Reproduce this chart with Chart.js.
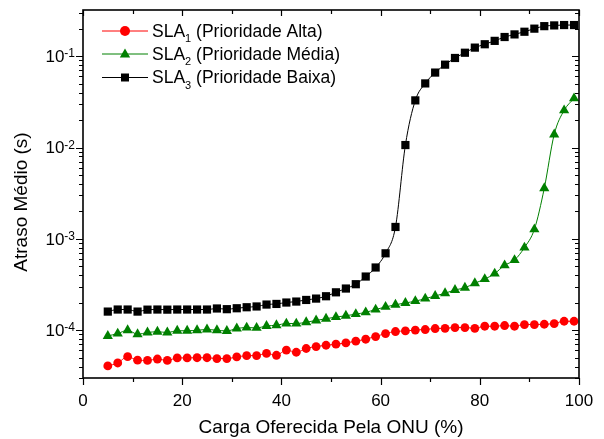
<!DOCTYPE html>
<html>
<head>
<meta charset="utf-8">
<script src="https://cdn.jsdelivr.net/npm/chart.js@4/dist/chart.umd.min.js"></script>
<style>
  html, body { margin: 0; padding: 0; background: #fff; }
  #wrap { width: 604px; height: 439px; }
</style>
</head>
<body>
<div id="wrap"><canvas id="chart" width="604" height="439"></canvas></div>
<script>
// Carga oferecida (%)
const carga = [5, 7, 9, 11, 13, 15, 17, 19, 21, 23, 25, 27, 29, 31, 33, 35, 37, 39, 41, 43,
  45, 47, 49, 51, 53, 55, 57, 59, 61, 63, 65, 67, 69, 71, 73, 75, 77, 79, 81, 83,
  85, 87, 89, 91, 93, 95, 97, 99];

// Atraso medio (s) por SLA
const sla1 = [4.07e-5, 4.38e-5, 5.13e-5, 4.70e-5, 4.67e-5, 4.84e-5, 4.67e-5, 4.98e-5, 4.98e-5, 5.00e-5,
  5.00e-5, 4.90e-5, 4.90e-5, 5.10e-5, 5.26e-5, 5.28e-5, 5.57e-5, 5.32e-5, 6.07e-5, 5.74e-5,
  6.31e-5, 6.63e-5, 6.85e-5, 7.03e-5, 7.26e-5, 7.58e-5, 7.97e-5, 8.53e-5, 9.20e-5, 9.68e-5,
  9.82e-5, 1.005e-4, 1.018e-4, 1.044e-4, 1.05e-4, 1.07e-4, 1.07e-4, 1.05e-4, 1.106e-4, 1.106e-4,
  1.126e-4, 1.106e-4, 1.154e-4, 1.154e-4, 1.163e-4, 1.184e-4, 1.254e-4, 1.254e-4];
const sla2 = [8.66e-5, 9.2e-5, 1.0e-4, 9.04e-5, 9.44e-5, 9.63e-5, 9.44e-5, 9.87e-5, 9.87e-5, 1.0e-4,
  1.018e-4, 1.0e-4, 9.82e-5, 1.044e-4, 1.07e-4, 1.06e-4, 1.114e-4, 1.134e-4, 1.184e-4, 1.184e-4,
  1.223e-4, 1.28e-4, 1.336e-4, 1.394e-4, 1.44e-4, 1.50e-4, 1.57e-4, 1.685e-4, 1.80e-4, 1.90e-4,
  1.99e-4, 2.08e-4, 2.22e-4, 2.37e-4, 2.54e-4, 2.76e-4, 2.92e-4, 3.27e-4, 3.63e-4, 4.17e-4,
  5.14e-4, 5.86e-4, 8.03e-4, 1.27e-3, 3.58e-3, 1.39e-2, 2.55e-2, 3.45e-2];
const sla3 = [1.60e-4, 1.685e-4, 1.685e-4, 1.60e-4, 1.68e-4, 1.685e-4, 1.68e-4, 1.685e-4, 1.685e-4, 1.685e-4,
  1.685e-4, 1.73e-4, 1.70e-4, 1.74e-4, 1.785e-4, 1.82e-4, 1.91e-4, 1.94e-4, 2.01e-4, 2.06e-4,
  2.145e-4, 2.22e-4, 2.355e-4, 2.6e-4, 2.86e-4, 3.19e-4, 3.87e-4, 4.86e-4, 6.95e-4, 1.35e-3,
  1.064e-2, 3.28e-2, 5.03e-2, 6.61e-2, 8.07e-2, 9.55e-2, 0.109, 0.124, 0.135, 0.147,
  0.162, 0.173, 0.185, 0.200, 0.213, 0.217, 0.219, 0.219];

const legendLabels = ['Prioridade Alta', 'Prioridade Média', 'Prioridade Baixa'];

// ticks
const xMajor = [0, 20, 40, 60, 80, 100];
const xMinor = [10, 30, 50, 70, 90];
const yMajor = [1e-4, 1e-3, 1e-2, 1e-1];
const yExp = ['-4', '-3', '-2', '-1'];

const FONT = 'Arial, "Liberation Sans", sans-serif';

function pts(ys) {
  return carga.map((x, i) => ({ x: x, y: ys[i] }));
}

function drawMarker(ctx, style, x, y, color) {
  ctx.save();
  ctx.fillStyle = color;
  ctx.beginPath();
  if (style === 'circle') {
    ctx.arc(x, y, 5, 0, Math.PI * 2);
  } else if (style === 'triangle') {
    ctx.moveTo(x, y - 5.5);
    ctx.lineTo(x + 5.2, y + 3.5);
    ctx.lineTo(x - 5.2, y + 3.5);
    ctx.closePath();
  } else {
    ctx.rect(x - 4, y - 4, 8, 8);
  }
  ctx.fill();
  ctx.restore();
}

// eixos espelhados, ticks menores, rotulos 10^n e legenda
const frame = {
  id: 'frame',
  afterDraw(chart) {
    const ctx = chart.ctx;
    const a = chart.chartArea;
    const xs = chart.scales.x, ys = chart.scales.y;
    ctx.save();
    ctx.strokeStyle = '#000';
    ctx.lineWidth = 1.6;
    ctx.strokeRect(a.left, a.top, a.right - a.left, a.bottom - a.top);

    ctx.lineWidth = 1.2;
    ctx.beginPath();
    xMajor.forEach(v => {
      const px = Math.round(xs.getPixelForValue(v)) + 0.5;
      ctx.moveTo(px, a.bottom); ctx.lineTo(px, a.bottom + 7);
      ctx.moveTo(px, a.top); ctx.lineTo(px, a.top + 6);
    });
    xMinor.forEach(v => {
      const px = Math.round(xs.getPixelForValue(v)) + 0.5;
      ctx.moveTo(px, a.bottom); ctx.lineTo(px, a.bottom + 4);
      ctx.moveTo(px, a.top); ctx.lineTo(px, a.top + 4);
    });
    for (let e = -5; e <= 0; e++) {
      for (let m = 1; m <= 9; m++) {
        const v = m * Math.pow(10, e);
        if (v < ys.min || v > ys.max) continue;
        const py = Math.round(ys.getPixelForValue(v)) + 0.5;
        const len = m === 1 ? 7 : 4;
        ctx.moveTo(a.left, py); ctx.lineTo(a.left - len, py);
        ctx.moveTo(a.right, py); ctx.lineTo(a.right - len, py);
      }
    }
    ctx.stroke();

    // rotulos do eixo y
    ctx.fillStyle = '#000';
    yMajor.forEach((v, i) => {
      const py = ys.getPixelForValue(v);
      ctx.font = '12px ' + FONT;
      ctx.textAlign = 'right';
      ctx.textBaseline = 'alphabetic';
      const ew = ctx.measureText(yExp[i]).width;
      ctx.fillText(yExp[i], 75, py + 1);
      ctx.font = '17px ' + FONT;
      ctx.textBaseline = 'middle';
      ctx.fillText('10', 75 - ew, py + 1);
    });

    // titulo do eixo y
    ctx.save();
    ctx.translate(22, 202);
    ctx.rotate(-Math.PI / 2);
    ctx.font = '19px ' + FONT;
    ctx.textAlign = 'center';
    ctx.textBaseline = 'middle';
    ctx.fillText('Atraso Médio (s)', 0, 0);
    ctx.restore();

    // legenda
    const rows = [31, 54, 77.5];
    chart.data.datasets.forEach((ds, i) => {
      const y = rows[i];
      ctx.strokeStyle = ds.borderColor;
      ctx.lineWidth = 1;
      ctx.beginPath();
      ctx.moveTo(102, y); ctx.lineTo(148, y);
      ctx.stroke();
      drawMarker(ctx, ds.pointStyle, 125, y, ds.pointBackgroundColor);
      ctx.fillStyle = '#000';
      ctx.textAlign = 'left';
      ctx.textBaseline = 'middle';
      ctx.font = '17.5px ' + FONT;
      ctx.fillText('SLA', 152, y + 1);
      let x = 152 + ctx.measureText('SLA').width;
      ctx.font = '11px ' + FONT;
      ctx.fillText(String(i + 1), x, y + 8);
      x += ctx.measureText(String(i + 1)).width;
      ctx.font = '17.5px ' + FONT;
      ctx.fillText(' (' + legendLabels[i] + ')', x, y + 1);
    });
    ctx.restore();
  }
};

const mk = (data, color, style, r) => ({
  data: pts(data),
  borderColor: color,
  backgroundColor: color,
  pointBackgroundColor: color,
  pointBorderColor: color,
  pointBorderWidth: 0,
  pointStyle: style,
  pointRadius: r,
  borderWidth: 1,
  cubicInterpolationMode: 'monotone',
  tension: 0.4
});

const config = {
  type: 'line',
  data: {
    datasets: [
      mk(sla1, '#FF0000', 'circle', 4.4),
      mk(sla2, '#008000', 'triangle', 5.9),
      mk(sla3, '#000000', 'rect', 5.8)
    ]
  },
  options: {
    responsive: false,
    devicePixelRatio: 1,
    animation: false,
    layout: { padding: { top: 10, right: 25, left: 0, bottom: 0 } },
    plugins: { legend: { display: false }, tooltip: { enabled: false } },
    scales: {
      x: {
        type: 'linear',
        min: 0, max: 100,
        afterBuildTicks: s => { s.ticks = xMajor.map(v => ({ value: v })); },
        afterFit: s => { s.height = 61; },
        grid: { display: false },
        border: { display: false },
        ticks: { color: '#000', font: { size: 17, family: FONT }, padding: 5, maxRotation: 0 },
        title: {
          display: true, text: 'Carga Oferecida Pela ONU (%)', color: '#000',
          font: { size: 19, family: FONT }, padding: { top: 0, bottom: 0 }
        }
      },
      y: {
        type: 'logarithmic',
        min: 3e-5, max: 0.32,
        afterBuildTicks: s => { s.ticks = yMajor.map(v => ({ value: v })); },
        afterFit: s => { s.width = 83; },
        grid: { display: false },
        border: { display: false },
        ticks: { display: false }
      }
    }
  },
  plugins: [frame]
};

const ctx = document.getElementById('chart').getContext('2d');
const chart = new Chart(ctx, config);
</script>
</body>
</html>
